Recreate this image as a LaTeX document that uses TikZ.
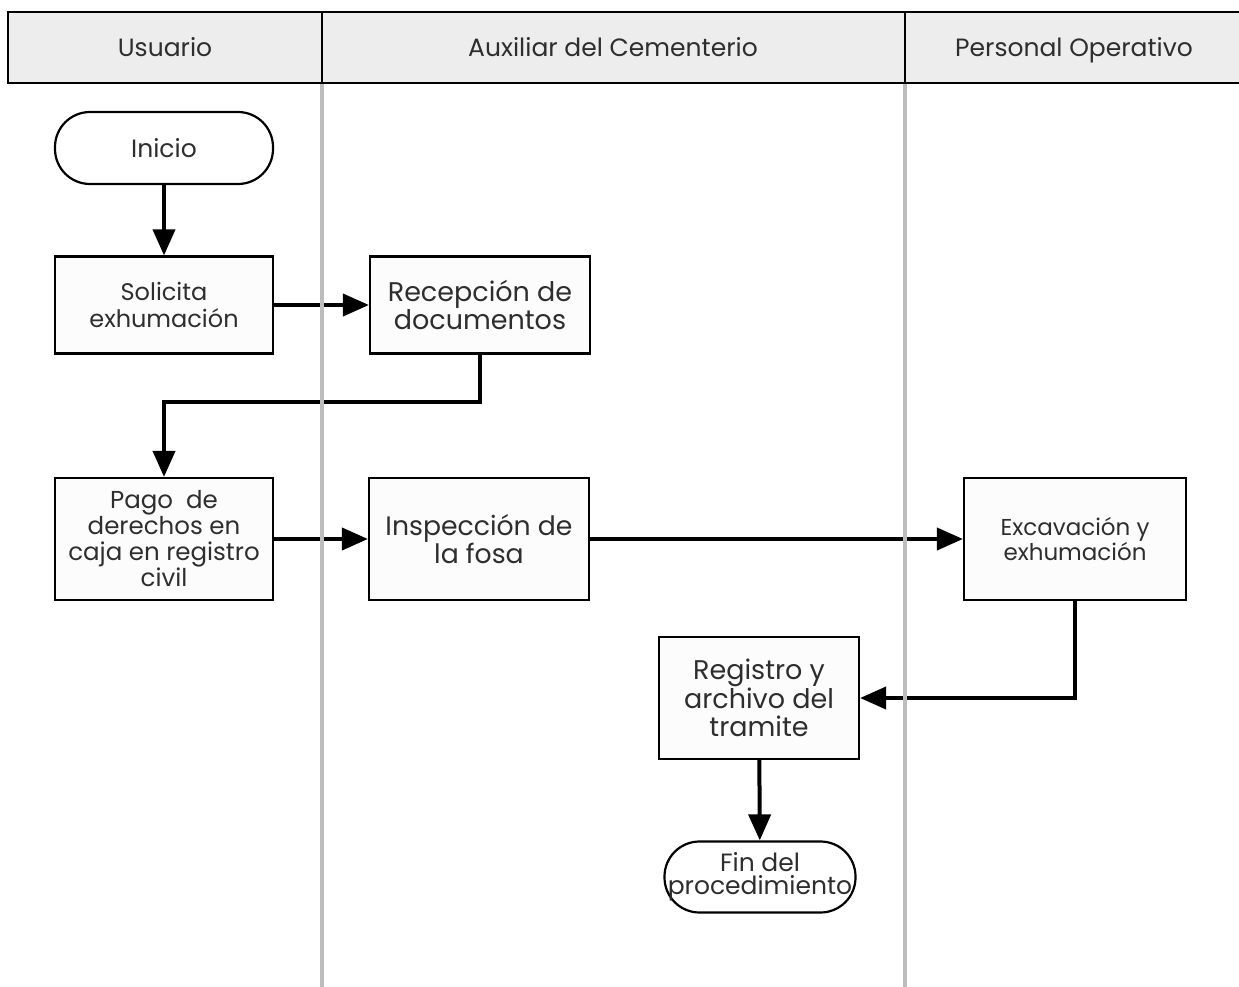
\documentclass[tikz,border=0pt]{standalone}
\usepackage{fontspec}
\setmainfont{Poppins}
\usetikzlibrary{arrows.meta}
\definecolor{txt}{HTML}{2E2E2E}
\definecolor{headfill}{HTML}{EDEDED}
\definecolor{boxfill}{HTML}{FCFCFC}
\definecolor{lane}{HTML}{BDBDBD}
\tikzset{
  proc/.style={draw=black, line width=2.2pt, fill=boxfill, rectangle, inner sep=0pt,
    align=center, text=txt, font=\fontsize{24}{26.5}\selectfont},
  term/.style={draw=black, line width=2.2pt, fill=white, rectangle, rounded corners=35pt,
    inner sep=0pt, align=center, text=txt, font=\fontsize{25}{26}\selectfont},
  head/.style={text=txt, font=\fontsize{25}{28}\selectfont, anchor=base},
  flow/.style={line width=4pt, -{Triangle[length=26pt,width=22pt]}},
  lanesep/.style={draw=lane, line width=3.5pt}
}
\begin{document}
\begin{tikzpicture}[x=1pt,y=-1pt]
\useasboundingbox (0,0) rectangle (1239,987);
\fill[white] (0,0) rectangle (1239,987);

% lane header band
\draw[line width=2.2pt, fill=headfill] (8,12) rectangle (1245,83);
\draw[line width=2.2pt] (322,12) -- (322,83);
\draw[line width=2.2pt] (905,12) -- (905,83);
\node[head] (hU) at (165,57) {Usuario};
\node[head] (hA) at (613,57) {Auxiliar del Cementerio};
\node[head] (hP) at (1074,57) {Personal Operativo};

% steps
\node[term, minimum width=218pt, minimum height=72pt] (inicio) at (164,148) {Inicio};
\node[proc, minimum width=218pt, minimum height=97pt] (solicita) at (164,305) {Solicita\\exhumación};
\node[proc, minimum width=220pt, minimum height=97pt, font=\fontsize{27}{28}\selectfont] (recep) at (480,305) {Recepción de\\documentos};
\node[proc, minimum width=218pt, minimum height=122pt, font=\fontsize{24.5}{26}\selectfont] (pago) at (164,539) {Pago\ \ de\\derechos en\\caja en registro\\civil};
\node[proc, minimum width=220pt, minimum height=122pt, font=\fontsize{26.7}{28}\selectfont] (insp) at (479,539) {Inspección de\\la fosa};
\node[proc, minimum width=222pt, minimum height=122pt, font=\fontsize{23}{23}\selectfont] (exca) at (1075,539) {Excavación y\\exhumación};
\node[proc, minimum width=200pt, minimum height=122pt, font=\fontsize{27}{28.5}\selectfont] (regis) at (759,698) {Registro y\\archivo del\\tramite};
\node[term, minimum width=191pt, minimum height=71pt] (fin) at (760,877)
  {\makebox[0pt]{\begin{tabular}{@{}c@{}}Fin del\\[-4pt]procedimiento\end{tabular}}};

% connectors
\draw[flow] (inicio) -- (solicita);
\draw[flow] (solicita) -- (recep);
\draw[flow] (recep.south) |- (164,402) -- (pago.north);
\draw[flow] (pago) -- (insp);
\draw[flow] (insp) -- (exca);
\draw[flow] (exca.south) |- (regis.east);
\draw[flow] (regis) -- (fin);

% lane separators
\draw[lanesep] (322,84.5) -- (322,987);
\draw[lanesep] (905,84.5) -- (905,987);
\end{tikzpicture}
\end{document}
